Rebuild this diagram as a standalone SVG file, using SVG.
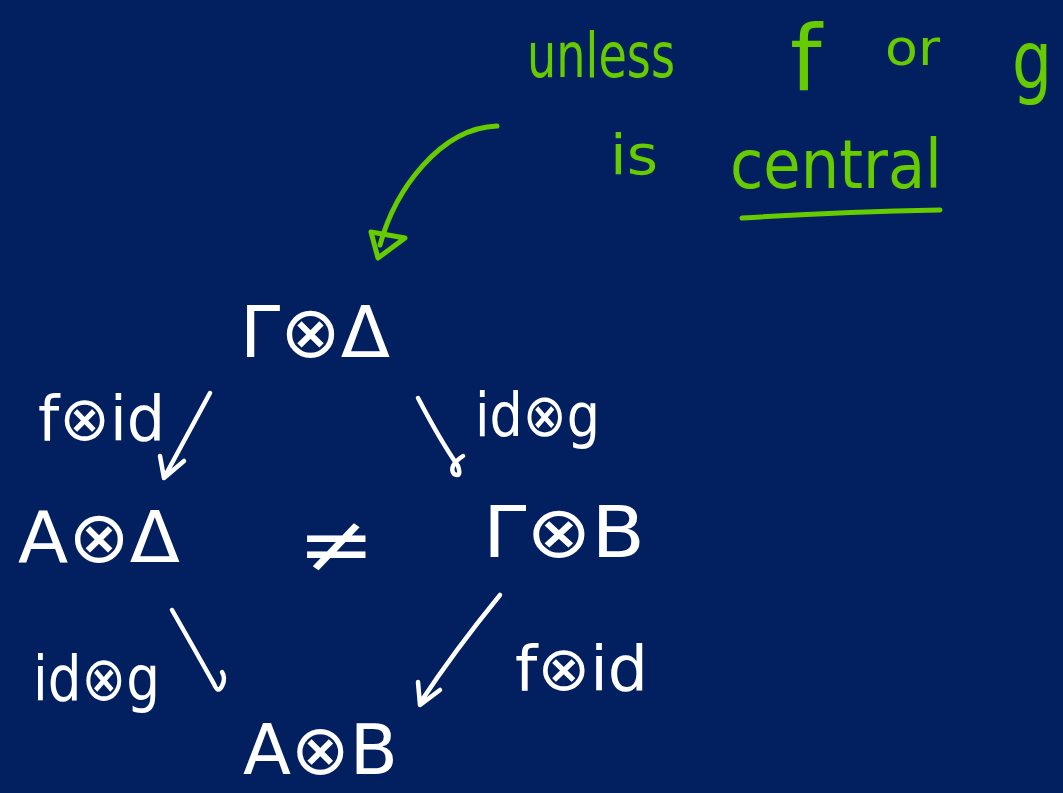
<svg xmlns="http://www.w3.org/2000/svg" width="1063" height="793" viewBox="0 0 1063 793">
<style>
.w{fill:#ffffff;font-family:"DejaVu Sans","Liberation Sans",sans-serif}
.g{fill:#66cc00;font-family:"DejaVu Sans","Liberation Sans",sans-serif}
.ws{fill:none;stroke:#ffffff;stroke-width:4.5;stroke-linecap:round;stroke-linejoin:round}
.gs{fill:none;stroke:#66cc00;stroke-width:5;stroke-linecap:round;stroke-linejoin:round}
</style>
<rect width="1063" height="793" fill="#02205f"/>
<g id="n-gamma-delta"><text class="w" x="240" y="357" font-size="72" textLength="150" lengthAdjust="spacingAndGlyphs">Γ⊗Δ</text></g>
<g id="n-a-delta"><text class="w" x="18" y="562" font-size="72" textLength="162" lengthAdjust="spacingAndGlyphs">A⊗Δ</text></g>
<g id="n-gamma-b"><text class="w" x="483" y="557" font-size="72" textLength="162" lengthAdjust="spacingAndGlyphs">Γ⊗B</text></g>
<g id="n-a-b"><text class="w" x="243" y="774" font-size="70" textLength="155" lengthAdjust="spacingAndGlyphs">A⊗B</text></g>
<g id="neq"><text class="w" x="297" y="572" font-size="80" textLength="78" lengthAdjust="spacingAndGlyphs">≠</text></g>
<g id="connectors">
<path class="ws" d="M210,393 L165,476 M160,456 L164,478 L184,461"/>
<path class="ws" d="M418,398 Q440,440 458,466 Q462,478 454,474 Q448,466 463,456"/>
<path class="ws" d="M172,610 Q195,650 214,684 Q218,694 222,686 Q226,678 222,672"/>
<path class="ws" d="M500,595 Q455,650 420,703 M418,682 L420,705 L440,690"/>
<text class="w" x="38" y="440" font-size="62" textLength="127" lengthAdjust="spacingAndGlyphs">f⊗id</text>
<text class="w" x="475" y="436" font-size="60" textLength="125" lengthAdjust="spacingAndGlyphs">id⊗g</text>
<text class="w" x="33" y="700" font-size="62" textLength="127" lengthAdjust="spacingAndGlyphs">id⊗g</text>
<text class="w" x="515" y="690" font-size="62" textLength="133" lengthAdjust="spacingAndGlyphs">f⊗id</text>
</g>
<g id="note">
<text class="g" x="527" y="77" font-size="62" textLength="148" lengthAdjust="spacingAndGlyphs">unless</text>
<text class="g" x="790" y="90" font-size="90">f</text>
<text class="g" x="885" y="65" font-size="50" textLength="55" lengthAdjust="spacingAndGlyphs">or</text>
<text class="g" x="1012" y="88" font-size="80" textLength="40" lengthAdjust="spacingAndGlyphs">g</text>
<text class="g" x="610" y="174" font-size="56" textLength="48" lengthAdjust="spacingAndGlyphs">is</text>
<text class="g" x="730" y="188" font-size="68" textLength="212" lengthAdjust="spacingAndGlyphs">central</text>
<path class="gs" d="M742,218 Q840,212 940,210"/>
<path class="gs" d="M497,126 C440,128 395,190 380,245"/>
<path class="gs" d="M371,232 L405,238 L378,258 Z"/>
</g>
</svg>
